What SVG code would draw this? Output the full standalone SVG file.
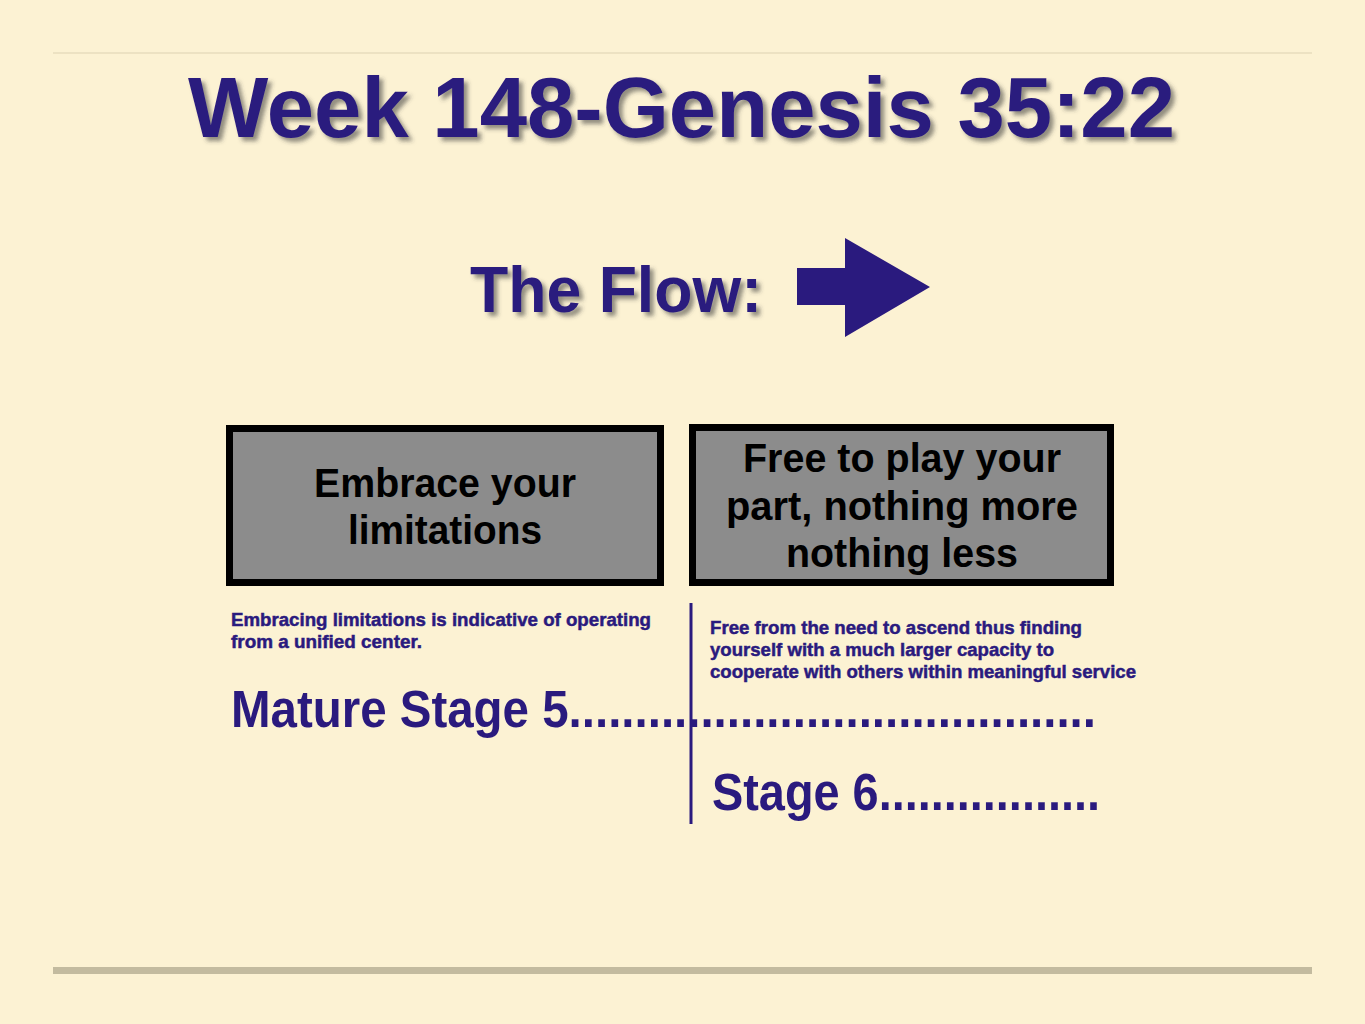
<svg xmlns="http://www.w3.org/2000/svg" width="1365" height="1024" viewBox="0 0 1365 1024">
<defs>
<style>
.navy{fill:#2a1a7e;font-family:"Liberation Sans",Arial,sans-serif;font-weight:bold}
.box{fill:#8c8c8c;stroke:#000;stroke-width:7}
.btxt{fill:#000;font-family:"Liberation Sans",Arial,sans-serif;font-weight:bold;font-size:40px;text-anchor:middle}
.small{fill:#2a1a7e;stroke:#2a1a7e;stroke-width:0.5;font-family:"Liberation Sans",Arial,sans-serif;font-weight:bold;font-size:19px}
</style>
<filter id="sh" x="-5%" y="-20%" width="110%" height="150%">
<feDropShadow dx="4" dy="4" stdDeviation="2" flood-color="#3a3a3a" flood-opacity="0.55"/>
</filter>
</defs>
<rect width="1365" height="1024" fill="#fcf2d3"/>
<line x1="53" y1="53" x2="1312" y2="53" stroke="#ddd2b2" stroke-width="1"/>
<rect x="53" y="967" width="1259" height="7" fill="#c3bb9f"/>

<g id="title" filter="url(#sh)">
<text class="navy" x="188" y="137" font-size="86" textLength="987" lengthAdjust="spacingAndGlyphs">Week 148-Genesis 35:22</text>
</g>

<g id="flow" filter="url(#sh)">
<text class="navy" x="470" y="312" font-size="65" textLength="292" lengthAdjust="spacingAndGlyphs">The Flow:</text>
</g>

<g id="flow-arrow">
<polygon points="797,268 845,268 845,238 930,287 845,337 845,305 797,305" fill="#2a1a7e"/>
</g>

<g id="box1">
<rect class="box" x="229.5" y="428.5" width="431" height="154"/>
<text class="btxt" x="445" y="497" textLength="262" lengthAdjust="spacingAndGlyphs">Embrace your</text>
<text class="btxt" x="445" y="544" textLength="194" lengthAdjust="spacingAndGlyphs">limitations</text>
</g>

<g id="box2">
<rect class="box" x="692.5" y="427.5" width="418" height="155"/>
<text class="btxt" x="902" y="472" textLength="318" lengthAdjust="spacingAndGlyphs">Free to play your</text>
<text class="btxt" x="902" y="520" textLength="352" lengthAdjust="spacingAndGlyphs">part, nothing more</text>
<text class="btxt" x="902" y="567" textLength="232" lengthAdjust="spacingAndGlyphs">nothing less</text>
</g>

<g id="desc-left">
<text class="small" x="231" y="626" textLength="420" lengthAdjust="spacingAndGlyphs">Embracing limitations is indicative of operating</text>
<text class="small" x="231" y="648" textLength="191" lengthAdjust="spacingAndGlyphs">from a unified center.</text>
</g>

<g id="desc-right">
<text class="small" x="710" y="634" textLength="372" lengthAdjust="spacingAndGlyphs">Free from the need to ascend thus finding</text>
<text class="small" x="710" y="656" textLength="344" lengthAdjust="spacingAndGlyphs">yourself with a much larger capacity to</text>
<text class="small" x="710" y="678" textLength="426" lengthAdjust="spacingAndGlyphs">cooperate with others within meaningful service</text>
</g>

<g id="connectors">
<line x1="691" y1="603" x2="691" y2="824" stroke="#2a1a7e" stroke-width="3"/>
</g>

<g id="stage5">
<text class="navy" x="231" y="727" font-size="51" textLength="865" lengthAdjust="spacingAndGlyphs">Mature Stage 5........................................</text>
</g>

<g id="stage6">
<text class="navy" x="712" y="810" font-size="51" textLength="388" lengthAdjust="spacingAndGlyphs">Stage 6.................</text>
</g>
</svg>
